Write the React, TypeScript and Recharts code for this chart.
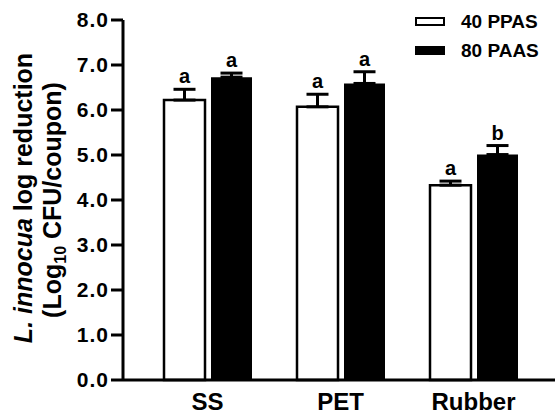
import {
  BarChart,
  Bar,
  XAxis,
  YAxis,
  ErrorBar,
  LabelList,
  Legend,
} from "recharts";

const categories = ["SS", "PET", "Rubber"];
const ppas40 = [6.22, 6.07, 4.33];
const paas80 = [6.73, 6.59, 5.01];
const ppas40Err = [0.24, 0.28, 0.09];
const paas80Err = [0.09, 0.26, 0.2];
const ppas40Letters = ["a", "a", "a"];
const paas80Letters = ["a", "a", "b"];
const yTicks = [0, 1, 2, 3, 4, 5, 6, 7, 8];

const FONT = "'Liberation Sans', Arial, Helvetica, sans-serif";

// only the upper half of the error bar is drawn (Prism style)
const data = categories.map((name, i) => ({
  name,
  p40: ppas40[i],
  p80: paas80[i],
  e40: [0, ppas40Err[i]],
  e80: [0, paas80Err[i]],
  l40: ppas40Letters[i],
  l80: paas80Letters[i],
}));

// letter sits just above the error bar cap
const letterLabel = (vals: number[], errs: number[]) => (props: any) => {
  const { x, y, width, height, index, value } = props;
  const perUnit = height / vals[index];
  const capY = y - errs[index] * perUnit;
  return (
    <text
      x={x + width / 2}
      y={capY - 6}
      textAnchor="middle"
      fontSize={20}
      fontWeight="bold"
      fontFamily={FONT}
      fill="#000"
    >
      {value}
    </text>
  );
};

const YTitle = () => (
  <g fontFamily={FONT} fontWeight="bold" fontSize={25} fill="#000">
    <text transform="translate(32,198) rotate(-90)" textAnchor="middle">
      <tspan fontStyle="italic">L. innocua</tspan>
      <tspan> log reduction</tspan>
    </text>
    <text transform="translate(61,200) rotate(-90)" textAnchor="middle">
      <tspan>(Log</tspan>
      <tspan fontSize={16} dy={5}>10</tspan>
      <tspan dy={-5}> CFU/coupon)</tspan>
    </text>
  </g>
);

const renderLegend = () => {
  const items = [
    { label: "40 PPAS", fill: "#fff" },
    { label: "80 PAAS", fill: "#000" },
  ];
  return (
    <div style={{ fontFamily: FONT, fontWeight: "bold", fontSize: 19 }}>
      {items.map((it) => (
        <div
          key={it.label}
          style={{ display: "flex", alignItems: "center", height: 29 }}
        >
          <div
            style={{
              width: 30,
              height: 9,
              boxSizing: "border-box",
              border: "2.5px solid #000",
              background: it.fill,
              marginRight: 16,
            }}
          />
          <span>{it.label}</span>
        </div>
      ))}
    </div>
  );
};

export default function App() {
  return (
    <div style={{ position: "relative", width: 555, height: 418, background: "#fff" }}>
      <style>{`body{margin:0;}`}</style>
      <BarChart
        width={555}
        height={418}
        data={data}
        margin={{ top: 20, right: 0, left: 0, bottom: 0 }}
        barSize={41}
        barGap={6}
      >
        <XAxis
          dataKey="name"
          height={38}
          padding={{ left: 18, right: 15 }}
          axisLine={{ stroke: "#000", strokeWidth: 3 }}
          tickLine={false}
          tickSize={0}
          tickMargin={13}
          tick={{ fontSize: 24, fontWeight: "bold", fill: "#000", fontFamily: FONT }}
        />
        <YAxis
          width={123}
          domain={[0, 8]}
          ticks={yTicks}
          interval={0}
          tickFormatter={(v: number) => v.toFixed(1)}
          axisLine={{ stroke: "#000", strokeWidth: 3 }}
          tickLine={{ stroke: "#000", strokeWidth: 3 }}
          tickSize={12}
          tickMargin={2}
          tick={{ fontSize: 21, fontWeight: "bold", fill: "#000", fontFamily: FONT, letterSpacing: 1 }}
          label={{ content: () => <YTitle /> }}
        />
        <Legend
          layout="vertical"
          align="center"
          verticalAlign="middle"
          content={renderLegend}
          wrapperStyle={{ top: 7, left: 415, width: 140 }}
        />
        <Bar
          dataKey="p40"
          name="40 PPAS"
          fill="#fff"
          stroke="#000"
          strokeWidth={2.5}
          isAnimationActive={false}
        >
          <ErrorBar dataKey="e40" width={11} stroke="#000" strokeWidth={3} direction="y" />
          <LabelList dataKey="l40" content={letterLabel(ppas40, ppas40Err)} />
        </Bar>
        <Bar
          dataKey="p80"
          name="80 PAAS"
          fill="#000"
          isAnimationActive={false}
        >
          <ErrorBar dataKey="e80" width={11} stroke="#000" strokeWidth={3} direction="y" />
          <LabelList dataKey="l80" content={letterLabel(paas80, paas80Err)} />
        </Bar>
      </BarChart>
    </div>
  );
}
